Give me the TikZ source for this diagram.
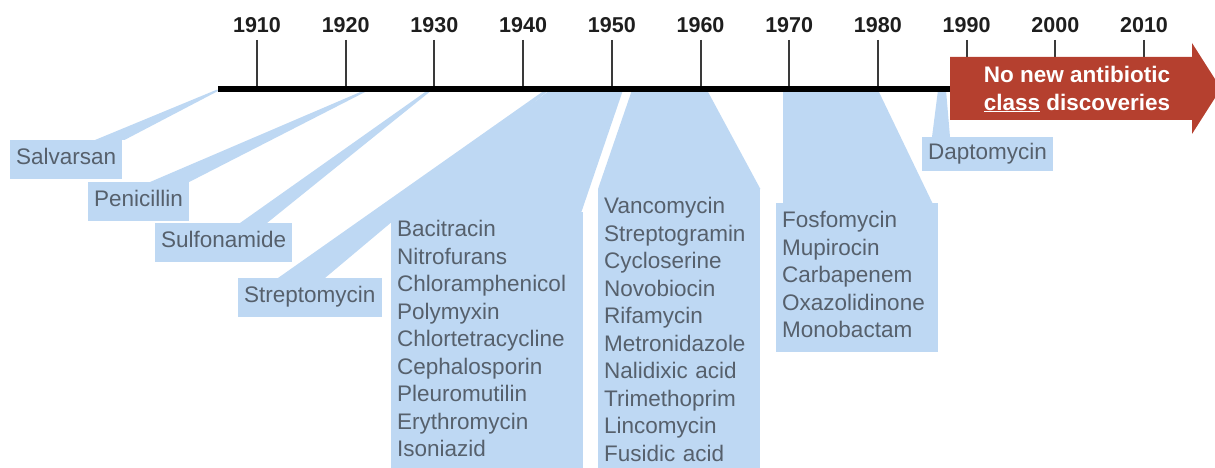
\documentclass[tikz,border=0pt]{standalone}
\usepackage{fontspec}
\setmainfont{Liberation Sans}
\usetikzlibrary{positioning,calc}
\definecolor{ink}     {HTML}{1E1E1E}
\definecolor{tickgray}{HTML}{3A3A3A}
\definecolor{sky}     {HTML}{BED8F3}
\definecolor{slate}   {HTML}{56606C}
\definecolor{brick}   {HTML}{B5402F}
\tikzset{
  % --- callouts
  drug/.style  = {fill=sky, text=slate, anchor=north west, inner xsep=6pt, inner ysep=5.5pt,
                  font=\fontsize{22.5}{27.5}\selectfont,
                  execute at begin node=\strut, execute at end node=\strut},
  drugs/.style = {drug, align=left},
  wedge/.style = {fill=sky},
  % --- axis
  yr/.style    = {font=\fontsize{21.5}{24}\selectfont\bfseries, text=ink, inner sep=2pt},
  tick/.style  = {draw=tickgray, line width=2pt},
  bar/.style   = {draw=black, line width=6.5pt},
  % --- gap arrow
  gap/.style   = {fill=brick},
  gaptxt/.style= {font=\fontsize{22.5}{28}\selectfont\bfseries, text=white, align=center},
}

\begin{document}
\begin{tikzpicture}[x=1pt, y=-1pt]
  \useasboundingbox (0,0) rectangle (1215,468);

  % years and ticks
  \foreach \yr [count=\i from 0] in {1910,1920,...,2010}{
    \coordinate (k\yr) at (257+\i*88.7,89);
    \node[yr] (y\yr) at (257+\i*88.7,25) {\yr};
    \draw[tick] ([yshift=-5pt]y\yr.south) -- (k\yr);
  }

  % discoveries
  \node[drug] (salv)  at (10,140)  {Salvarsan};
  \node[drug] (peni)  at (88,182)  {Penicillin};
  \node[drug] (sulf)  at (155,223) {Sulfonamide};
  \node[drug] (strep) at (238,278) {Streptomycin};
  \node[drugs, text width=180pt] (g50) at (391,212)
    {Bacitracin\\Nitrofurans\\Chloramphenicol\\Polymyxin\\Chlortetracycline\\
     Cephalosporin\\Pleuromutilin\\Erythromycin\\Isoniazid};
  \node[drugs, text width=150pt] (g60) at (598,189)
    {Vancomycin\\Streptogramin\\Cycloserine\\Novobiocin\\Rifamycin\\
     Metronidazole\\Nalidixic acid\\Trimethoprim\\Lincomycin\\Fusidic acid};
  \node[drugs, text width=150pt] (g70) at (776,203)
    {Fosfomycin\\Mupirocin\\Carbapenem\\Oxazolidinone\\Monobactam};
  \node[drug, inner ysep=3pt] (dapto) at (922,137) {Daptomycin};

  % where each one hangs from the bar
  \coordinate (salv0)  at (218,90);
  \coordinate (peni0)  at (367,90);
  \coordinate (sulf0)  at (430,90);
  \coordinate (strep0) at (547,90);
  \coordinate (dapto0) at (942,90);

  \fill[wedge] ([xshift=-2pt]salv0) -- ([xshift=2pt]salv0)
        -- ([xshift=2pt]salv.north east) -- ([xshift=85pt]salv.north west) -- cycle;
  \fill[wedge] ([xshift=-2pt]peni0) -- ([xshift=2pt]peni0)
        -- (peni.north east) -- ([xshift=62pt]peni.north west) -- cycle;
  \fill[wedge] ([xshift=-2pt]sulf0) -- ([xshift=2pt]sulf0)
        -- ([xshift=112pt]sulf.north west) -- ([xshift=85pt]sulf.north west) -- cycle;
  \fill[wedge] ([xshift=-2pt]strep0) -- ([xshift=2pt]strep0)
        -- ([xshift=87pt]strep.north west) -- ([xshift=40pt]strep.north west) -- cycle;
  \fill[wedge] ([xshift=-4pt]dapto0) -- ([xshift=4pt]dapto0)
        -- ([xshift=28pt]dapto.north west) -- ([xshift=10pt]dapto.north west) -- cycle;
  \fill[wedge] (550,90) -- (623,90) -- ([xshift=-2pt]g50.north east) -- (g50.north west) -- cycle;
  \fill[wedge] (632,90) -- (707,90) -- (g60.north east) -- (g60.north west) -- cycle;
  \fill[wedge] (783,90) -- (878,90) -- ([xshift=-6pt]g70.north east)
        -- ([xshift=7pt]g70.north west) -- cycle;

  % timeline
  \coordinate (t0) at (218,89);
  \coordinate (t1) at (960,89);
  \draw[bar] (t0) -- (t1);

  % no new classes since
  \fill[gap] (950,57) -- (1192,57) -- (1192,43) -- (1221,88.5) -- (1192,134)
        -- (1192,120) -- (950,120) -- cycle;
  \node[gaptxt] (nonew) at (1077,89) {No new antibiotic\\\underline{class} discoveries};
\end{tikzpicture}
\end{document}
